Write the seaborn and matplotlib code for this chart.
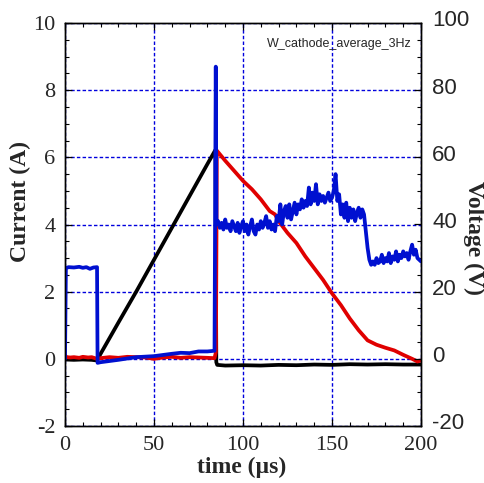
import matplotlib
matplotlib.use("Agg")
import matplotlib.pyplot as plt
import matplotlib.transforms as mtransforms
import seaborn as sns
import numpy as np
import pandas as pd
from matplotlib.ticker import MultipleLocator

# ---------------- data ----------------
t_red = [0, 1, 3, 5, 8, 10, 13, 15, 18, 20, 25, 30, 35, 40, 45, 50, 55, 60, 65, 70, 75, 80, 84, 84.8,
         85.3, 90, 95, 100, 105, 110, 115, 118, 120, 125, 130, 135, 140, 145, 150, 155, 160,
         165, 170, 175, 180, 185, 190, 195, 198, 200]
red_current = [0.1, 0.05, 0.04, 0.05, 0.03, 0.06, 0.04, 0.05, 0.0, 0.02, 0.05, 0.03, 0.06, 0.05, 0.04,
               0.0, 0.04, 0.06, 0.03, 0.05, 0.04, 0.03, 0.02, 0.2,
               6.2, 5.9, 5.6, 5.3, 5.05, 4.75, 4.4, 4.3, 4.1, 3.75, 3.45, 3.05, 2.7, 2.35, 1.95, 1.6, 1.2,
               0.85, 0.55, 0.42, 0.33, 0.25, 0.12, 0.0, -0.08, -0.05]

t_black = [0, 5, 10, 15, 18, 20, 30, 40, 50, 60, 70, 80, 84.5,
           85, 85.5, 90, 100, 110, 120, 130, 140, 150, 160, 170, 180, 190, 200]
black_current = [-0.02, -0.03, -0.02, -0.03, -0.05, 0.15, 1.08, 2.0, 2.95, 3.9, 4.85, 5.8, 6.22,
                 -0.1, -0.18, -0.2, -0.19, -0.2, -0.18, -0.19, -0.17, -0.18, -0.16, -0.17, -0.16, -0.17, -0.17]

t_blue = [0, 0.5, 2, 5, 8, 10, 12, 14, 16, 18, 18.3, 20, 30, 40, 50, 60, 65, 70, 75, 80, 84, 84.7,
          85.1] + list(range(86, 201))
blue_voltage = [0, 27, 27.3, 27.2, 27.4, 27.1, 27.3, 26.8, 27.2, 27.3, -1.2, -1.0, -0.3, 0.5, 0.8, 1.5,
                1.8, 1.7, 2.2, 2.2, 2.4, 87, 40,
                41, 39, 40.5, 38.5, 41.5, 39, 40, 38, 41, 39.5,
                38, 40.5, 37.5, 39.5, 41, 38, 40, 37, 39.5, 41.5,
                38, 37, 40, 38.5, 41, 39, 40.5, 42.5, 39, 41,
                38.5, 40, 38, 42.5, 41, 46, 40, 44, 45.5, 42,
                46, 41.5, 44, 46.5, 43, 46, 44.5, 47.5, 45, 47,
                45.5, 51, 46, 49.5, 47, 52, 46, 49, 47, 48.5,
                46.5, 48, 49.5, 47, 48, 50, 55, 47, 49, 43,
                46, 42, 46.5, 41, 45, 42, 44.5, 41, 43.5, 45,
                42, 44.5, 43, 38, 33, 29.5, 28, 29, 28, 30,
                28.5, 29, 31, 28.5, 30, 29, 31.5, 28.5, 30.5, 29.5,
                32, 29, 31, 30, 32, 30.5, 31.5, 29.5, 32, 34,
                31, 32.5, 30, 29.5, 29]

voltage_ticks = [-20, 0, 20, 40, 60, 80, 100]
voltage_ticklabels = ["-20", "0", "20", "40", "60", "80", "100"]
annotation = "W_cathode_average_3Hz"

# ---------------- plotting ----------------
sns.set_style("ticks")
serif = ["Liberation Serif", "DejaVu Serif"]
sans = ["Liberation Sans", "DejaVu Sans"]
plt.rcParams["font.family"] = serif
plt.rcParams["axes.unicode_minus"] = False

fig = plt.figure(figsize=(4.85, 4.83), dpi=100)
ax = fig.add_axes([65/485, 1-426/483, 356/485, 403/483])
ax2 = ax.twinx()

df_red = pd.DataFrame({"t": t_red, "I": red_current})
df_black = pd.DataFrame({"t": t_black, "I": black_current})
df_blue = pd.DataFrame({"t": t_blue, "V": blue_voltage})

LW = 2.7
sns.lineplot(data=df_black, x="t", y="I", ax=ax, color="black", lw=LW, estimator=None, sort=False)
sns.lineplot(data=df_red, x="t", y="I", ax=ax, color="#e00000", lw=LW, estimator=None, sort=False)
sns.lineplot(data=df_blue, x="t", y="V", ax=ax2, color="#0010d0", lw=LW, estimator=None, sort=False)

ax.set_xlim(0, 200)
ax.set_ylim(-2, 10)
ax2.set_ylim(-20, 100)

ax.xaxis.set_major_locator(MultipleLocator(50))
ax.xaxis.set_minor_locator(MultipleLocator(10))
ax.yaxis.set_major_locator(MultipleLocator(2))
ax.yaxis.set_minor_locator(MultipleLocator(0.5))
ax2.yaxis.set_major_locator(MultipleLocator(20))
ax2.yaxis.set_minor_locator(MultipleLocator(5))

ax.grid(True, which="major", color="#0000dd", linestyle=(0, (2.5, 1.6)), lw=1.0)

for a in (ax, ax2):
    for s in a.spines.values():
        s.set_linewidth(1.0)
        s.set_color("black")

ax.tick_params(axis="both", which="both", direction="in", top=True, right=False, color="black")
ax.tick_params(axis="both", which="major", length=5, width=0.9, labelsize=16, pad=7)
ax.tick_params(axis="both", which="minor", length=3, width=0.8)
ax2.tick_params(axis="y", which="both", direction="in", color="black", labelright=False)
ax2.tick_params(axis="y", which="major", length=5, width=0.9)
ax2.tick_params(axis="y", which="minor", length=3, width=0.8)

# right-hand (voltage) tick labels in a sans face, placed on the voltage scale
rtrans = mtransforms.offset_copy(ax2.get_yaxis_transform(), fig=fig, x=8, y=1.5, units="points")
for v, lab in zip(voltage_ticks, voltage_ticklabels):
    ax2.text(1.0, v, lab, transform=rtrans, ha="left", va="center", fontsize=16,
             family=sans, clip_on=False)

ax.set_xlabel("time (µs)", fontsize=17, fontweight="bold")
ax.xaxis.set_label_coords(0.495, -0.102)
ax.xaxis.label.set_va("center")

ax.set_ylabel("Current (A)", fontsize=17, fontweight="bold")
ax.yaxis.set_label_coords(-0.125, 0.556)
ax.yaxis.label.set_va("center")

ax2.set_ylabel("Voltage (V)", fontsize=17, fontweight="bold", rotation=270)
ax2.yaxis.set_label_coords(1.147, 0.466)
ax2.yaxis.label.set_va("center")
ax2.yaxis.label.set_ha("center")

ax.text(0.975, 0.948, annotation, transform=ax.transAxes, ha="right", va="center",
        fontsize=9, family=sans)

# clipped caption remnant at the very top
fig.text(-4/485, 1+9/483, "Temporal history", fontsize=13, family=serif, ha="left", va="baseline")

fig.savefig("out.png", dpi=100)
